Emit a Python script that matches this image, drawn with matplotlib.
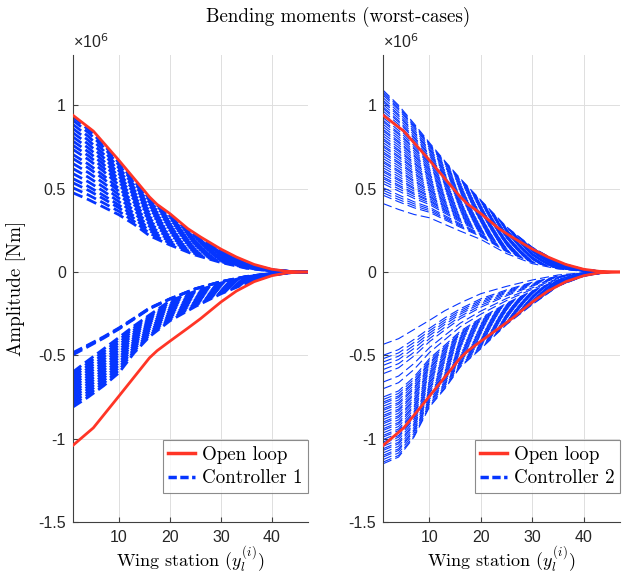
import matplotlib
matplotlib.use("Agg")
import matplotlib.pyplot as plt
from matplotlib.lines import Line2D
from matplotlib.ticker import FuncFormatter
import numpy as np

plt.rcParams['font.family'] = ['Liberation Sans', 'DejaVu Sans']
plt.rcParams['axes.unicode_minus'] = False
plt.rcParams['lines.scale_dashes'] = False

# --- data (values in 1e6 Nm) ---
# open loop, same in both panels
ol_x = [1, 5, 10, 16, 17.5, 20, 23.5, 26, 30, 33, 36.5, 40, 43, 47]
ol_upper = [0.94, 0.845, 0.67, 0.45, 0.405, 0.35, 0.26, 0.21, 0.137, 0.09, 0.045, 0.016, 0.004, 0.0]
ol_lower = [-1.04, -0.935, -0.745, -0.515, -0.472, -0.415, -0.337, -0.28, -0.18, -0.115, -0.058, -0.022, -0.005, 0.0]

# stations where the controller bands were read
stations = [1, 4, 7, 10, 13, 16, 20, 25, 30, 35, 40, 44, 47]

# controller 1: band edges and the root value of each worst-case curve
c1_up_low = [0.47, 0.43, 0.385, 0.34, 0.283, 0.215, 0.16, 0.10, 0.056, 0.022, 0.005, 0.001, 0.0]
c1_up_high = [0.93, 0.855, 0.765, 0.655, 0.545, 0.44, 0.335, 0.215, 0.125, 0.052, 0.013, 0.002, 0.0]
c1_up_roots = [0.93, 0.91, 0.885, 0.86, 0.835, 0.81, 0.785, 0.76, 0.735, 0.705,
               0.68, 0.65, 0.62, 0.59, 0.56, 0.535, 0.505, 0.475]

c1_lo_top = [-0.484, -0.437, -0.389, -0.336, -0.277, -0.216, -0.161, -0.10, -0.058, -0.027, -0.009, -0.001, 0.0]
c1_lo_mid = [-0.60, -0.53, -0.462, -0.393, -0.323, -0.258, -0.173, -0.115, -0.066, -0.029, -0.008, -0.001, 0.0]
c1_lo_bot = [-0.81, -0.75, -0.683, -0.605, -0.485, -0.388, -0.293, -0.207, -0.131, -0.067, -0.018, -0.003, 0.0]
c1_lo_roots_a = [-0.484, -0.49, -0.497]
c1_lo_roots_b = [-0.60, -0.615, -0.63, -0.645, -0.66, -0.675, -0.69, -0.705,
                 -0.72, -0.735, -0.75, -0.765, -0.78, -0.795, -0.81]

# controller 2
c2_up_low = [0.41, 0.375, 0.345, 0.325, 0.285, 0.245, 0.195, 0.11, 0.05, 0.018, 0.004, 0.001, 0.0]
c2_up_high = [1.09, 1.0, 0.89, 0.775, 0.665, 0.56, 0.43, 0.27, 0.148, 0.06, 0.017, 0.003, 0.0]
c2_up_roots = [0.41, 0.46, 0.475, 0.49, 0.505,
               0.53, 0.545, 0.56, 0.57, 0.585, 0.60, 0.61, 0.625, 0.64, 0.655, 0.665,
               0.68, 0.695, 0.71, 0.72, 0.735, 0.75, 0.76, 0.775, 0.79, 0.80, 0.815,
               0.83, 0.845, 0.855, 0.87, 0.885, 0.90, 0.91, 0.925, 0.94, 0.95, 0.965,
               0.98, 0.99, 1.005, 1.02, 1.03, 1.045, 1.06, 1.07, 1.08, 1.09]

c2_lo_near = [-0.434, -0.40, -0.345, -0.29, -0.232, -0.185, -0.13, -0.086, -0.048, -0.018, -0.004, -0.001, 0.0]
c2_lo_far = [-1.15, -1.11, -0.99, -0.81, -0.70, -0.57, -0.46, -0.315, -0.195, -0.085, -0.025, -0.005, 0.0]
c2_lo_roots = [-0.434, -0.50, -0.52, -0.54, -0.56, -0.585, -0.61, -0.66, -0.70,
               -0.75, -0.765, -0.78, -0.79, -0.805, -0.82, -0.83, -0.845, -0.86,
               -0.87, -0.885, -0.90, -0.91, -0.925, -0.94, -0.95, -0.965, -0.98,
               -0.99, -1.005, -1.02, -1.03, -1.045, -1.06, -1.07, -1.085, -1.10,
               -1.11, -1.125, -1.14, -1.15]

RED = '#ff3526'
BLUE = '#0535ff'
SERIF = 'cmr10'
SERIF_SIZE = 13.7


def draw_band(ax, near, far, roots, lw, dashes):
    near = np.array(near)
    far = np.array(far)
    for r in roots:
        w = (r - near[0]) / (far[0] - near[0])
        ax.plot(stations, near + w * (far - near), color=BLUE, lw=lw,
                dashes=dashes, zorder=2)


def style_axes(ax, ctrl_label):
    ax.set_xlim(1, 47)
    ax.set_ylim(-1.5, 1.3)
    ax.set_xticks([10, 20, 30, 40])
    ax.set_yticks([-1.5, -1, -0.5, 0, 0.5, 1])
    ax.yaxis.set_major_formatter(FuncFormatter(lambda v, p: '%g' % v))
    ax.grid(True, color='#dedede', lw=0.7)
    ax.set_axisbelow(True)
    for s in ['top', 'right']:
        ax.spines[s].set_visible(False)
    for s in ['left', 'bottom']:
        ax.spines[s].set_color('#404040')
        ax.spines[s].set_linewidth(0.8)
    ax.tick_params(direction='in', length=3.5, width=0.8, color='#404040',
                   labelcolor='#262626', labelsize=11.5)
    ax.tick_params(axis='y', pad=5)
    ax.tick_params(axis='x', pad=6)
    ax.text(0.0, 1.008, '\u00d710$^{6}$', transform=ax.transAxes, ha='left', va='bottom',
            fontsize=11.5, color='#262626', family='Liberation Sans', math_fontfamily='custom')
    ax.set_xlabel('Wing station $(y_l^{(i)})$', family=SERIF, math_fontfamily='cm',
                  fontsize=13)
    ax.xaxis.set_label_coords(0.5, -0.047)
    handles = [Line2D([], [], color=RED, lw=2.5),
               Line2D([], [], color=BLUE, lw=2.5, dashes=(6, 2.5))]
    leg = ax.legend(handles, ['Open loop', ctrl_label], loc='lower right',
                    bbox_to_anchor=(1.0, 0.062), borderaxespad=0, fancybox=False,
                    prop={'family': SERIF, 'size': SERIF_SIZE}, handlelength=1.4,
                    handletextpad=0.35, labelspacing=0.3, borderpad=0.3)
    leg.get_frame().set_edgecolor('#6e6e6e')
    leg.get_frame().set_linewidth(0.8)


fig = plt.figure(figsize=(6.23, 5.75), dpi=100)
ax1 = fig.add_axes([0.117, 0.092, 0.377, 0.812])
ax2 = fig.add_axes([0.615, 0.092, 0.380, 0.812])

# controller 1 (thick dashes)
draw_band(ax1, c1_up_low, c1_up_high, c1_up_roots, 2.0, (7.5, 3.5))
draw_band(ax1, c1_lo_top, c1_lo_mid, c1_lo_roots_a, 2.0, (7.5, 3.5))
draw_band(ax1, c1_lo_mid, c1_lo_bot, c1_lo_roots_b, 2.0, (7.5, 3.5))

# controller 2 (thin dashes)
draw_band(ax2, c2_up_low, c2_up_high, c2_up_roots, 0.8, (6.5, 3.0))
draw_band(ax2, c2_lo_near, c2_lo_far, c2_lo_roots, 0.8, (6.5, 3.0))

for ax in (ax1, ax2):
    ax.plot(ol_x, ol_upper, color=RED, lw=2.0, zorder=3)
    ax.plot(ol_x, ol_lower, color=RED, lw=2.0, zorder=3)

style_axes(ax1, 'Controller 1')
style_axes(ax2, 'Controller 2')

ax1.set_ylabel('Amplitude [Nm]', family=SERIF, fontsize=SERIF_SIZE)
ax1.yaxis.set_label_coords(-0.2, 0.5)

fig.text(0.5425, 0.970, 'Bending moments (worst-cases)', family=SERIF, fontsize=SERIF_SIZE,
         ha='center', va='center')

fig.savefig('out.png', dpi=100)
